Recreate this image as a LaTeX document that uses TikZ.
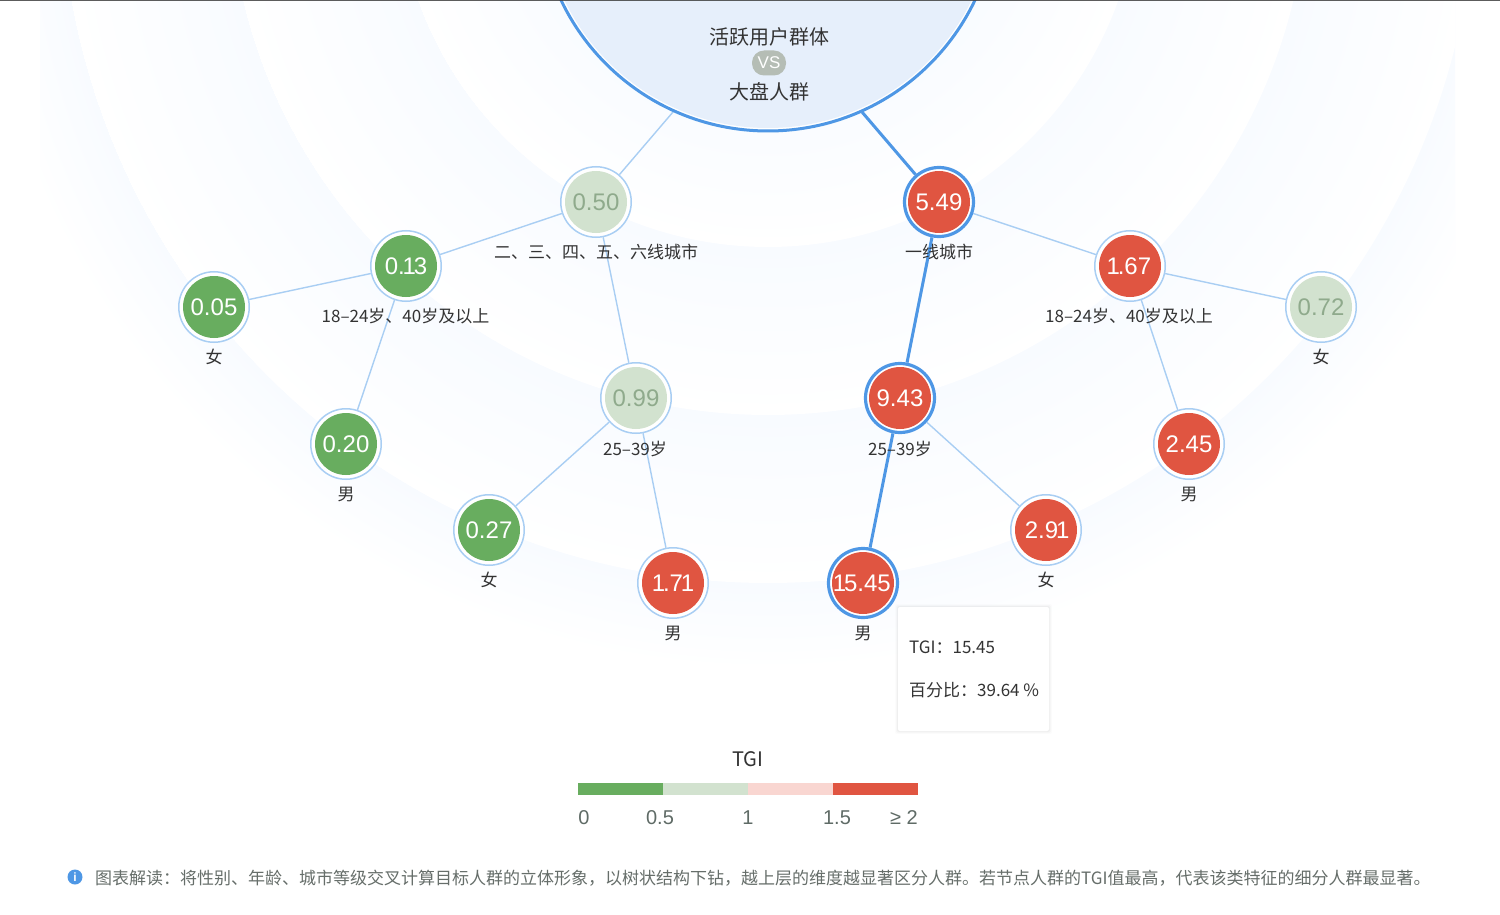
\documentclass[tikz,border=0pt]{standalone}
\usepackage{fontspec}
\setmainfont{Liberation Sans}
\newfontfamily\cjk{Noto Sans CJK SC}
\newcommand\narone{\kern-2.2pt 1\kern-2.2pt}
\definecolor{ringblue}{HTML}{F8FBFF}
\definecolor{nodered}{HTML}{E05541}
\definecolor{nodegreen}{HTML}{68AD5F}
\definecolor{nodepale}{HTML}{D2E2CF}
\definecolor{edgelight}{HTML}{A9CEF3}
\definecolor{edgestrong}{HTML}{4E97E5}
\definecolor{rootfill}{HTML}{E6EFFB}
\definecolor{inktext}{HTML}{333333}
\definecolor{paletext}{HTML}{8FAA8C}
\definecolor{pinkbar}{HTML}{F9D6D1}
\definecolor{vsfill}{HTML}{B5BDB5}
\definecolor{axistext}{HTML}{5F6B66}
\definecolor{notetext}{HTML}{666E6A}
\pgfdeclareradialshading{ringD}{\pgfpoint{0bp}{0bp}}{color(0bp)=(ringblue);color(22.26bp)=(ringblue);color(25bp)=(white)}
\pgfdeclareradialshading{ringC}{\pgfpoint{0bp}{0bp}}{color(0bp)=(ringblue);color(19.07bp)=(ringblue);color(25bp)=(white)}
\pgfdeclareradialshading{ringB}{\pgfpoint{0bp}{0bp}}{color(0bp)=(ringblue);color(17.2bp)=(ringblue);color(25bp)=(white)}
\pgfdeclareradialshading{ringA}{\pgfpoint{0bp}{0bp}}{color(0bp)=(ringblue);color(15.2bp)=(ringblue);color(25bp)=(white)}
\pgfdeclarelayer{back}
\pgfdeclarelayer{lines}
\pgfsetlayers{back,lines,main}
\tikzset{
 x=1pt,y=-1pt,
 valnode/.style={circle,inner sep=0pt,fill=white,font=\fontsize{24}{24}\selectfont,text=white},
 cool/.style={valnode,draw=edgelight,line width=1.5pt,minimum size=70.5pt},
 heat/.style={valnode,draw=edgestrong,line width=3.2pt,minimum size=69pt},
 disc/.style={path picture={\fill[#1] (path picture bounding box.center) circle[radius=31pt];}},
 redn/.style={disc=nodered},
 greenn/.style={disc=nodegreen},
 palen/.style={disc=nodepale,text=paletext},
 link/.style={edgelight,line width=1.4pt},
 hot/.style={edgestrong,line width=3pt},
 lab/.style={font=\cjk\fontsize{17}{17}\selectfont,text=inktext,inner sep=0pt},
 bigtext/.style={font=\cjk\fontsize{20}{20}\selectfont,text=inktext,inner sep=0pt},
 axislab/.style={font=\fontsize{20}{20}\selectfont,text=axistext,inner sep=0pt},
}
\begin{document}
\begin{tikzpicture}
\useasboundingbox (0,0) rectangle (1500,915);
\begin{pgfonlayer}{back}
\fill[white] (0,0) rectangle (1500,915);
\begin{scope}
\clip (40,0) rectangle (1455,915);
\shade[shading=ringD] (768,-125) circle[radius=795pt];
\shade[shading=ringC] (768,-125) circle[radius=708pt];
\shade[shading=ringB] (768,-125) circle[radius=540pt];
\shade[shading=ringA] (768,-125) circle[radius=372pt];
\end{scope}
\end{pgfonlayer}
% root
\node[circle,draw=edgestrong,fill=white,line width=3pt,minimum size=458pt,inner sep=0pt,
  path picture={\fill[rootfill] (path picture bounding box.center) circle[radius=226pt];}] (root) at (768,-98) {};
\coordinate (rootL) at (673,112);
\coordinate (rootR) at (862,112);
\fill[black!75,opacity=.85] (0,0) rectangle (1500,1.5);
% value nodes
\node[heat,redn] (n549) at (939,202) {5.49};
\node[cool,palen] (n050) at (596,202) {0.50};
\node[cool,greenn] (n013) at (406,266) {0.\narone3};
\node[cool,greenn] (n005) at (214,307) {0.05};
\node[cool,greenn] (n020) at (346,444) {0.20};
\node[cool,palen] (n099) at (636,398) {0.99};
\node[cool,greenn] (n027) at (489,530) {0.27};
\node[cool,redn] (n171) at (673,583) {\narone.7\narone};
\node[heat,redn] (n943) at (900,398) {9.43};
\node[heat,redn] (n1545) at (863,583) {\narone5.45};
\node[cool,redn] (n291) at (1046,530) {2.9\narone};
\node[cool,redn] (n167) at (1130,266) {\narone.67};
\node[cool,palen] (n072) at (1321,307) {0.72};
\node[cool,redn] (n245) at (1189,444) {2.45};
% connectors
\begin{pgfonlayer}{lines}
\draw[link] (rootL) -- (n050);
\draw[hot] (rootR) -- (n549);
\draw[link] (n050) -- (n013);
\draw[link] (n050) -- (n099);
\draw[link] (n013) -- (n005);
\draw[link] (n013) -- (n020);
\draw[link] (n099) -- (n027);
\draw[link] (n099) -- (n171);
\draw[link] (n549) -- (n167);
\draw[hot] (n549) -- (n943);
\draw[hot] (n943) -- (n1545);
\draw[link] (n943) -- (n291);
\draw[link] (n167) -- (n072);
\draw[link] (n167) -- (n245);
\end{pgfonlayer}
% root text
\node[bigtext] (t1) at (769,37) {活跃用户群体};
\node[rounded corners=12pt,fill=vsfill,minimum width=34pt,minimum height=25pt,inner sep=0pt,text=white,font=\fontsize{17}{17}\selectfont] (vs) at (769,63) {VS};
\node[bigtext] (t2) at (769,92) {大盘人群};
% labels
\node[lab] (l1) at (596,252) {二、三、四、五、六线城市};
\node[lab] (l2) at (939,252) {一线城市};
\node[lab] (l3) at (405.5,316.5) {18–24岁、40岁及以上};
\node[lab] (l4) at (1129,316.5) {18–24岁、40岁及以上};
\node[lab] (l5) at (214,357) {女};
\node[lab] (l6) at (1321,357) {女};
\node[lab] (l7) at (635,449) {25–39岁};
\node[lab] (l8) at (900,449) {25–39岁};
\node[lab] (l9) at (346,494) {男};
\node[lab] (l10) at (1189,494) {男};
\node[lab] (l11) at (489,580) {女};
\node[lab] (l12) at (1046,580) {女};
\node[lab] (l13) at (673,633) {男};
\node[lab] (l14) at (863,633) {男};
% tooltip
\foreach \w/\o in {3/.012,2/.02,1/.03}{\fill[black,opacity=\o,rounded corners=2pt] (898-\w,607-\w) rectangle (1049+\w,731+\w);}
\node[fill=white,rounded corners=2pt,minimum width=151pt,minimum height=124pt,inner sep=0pt] (tip) at (973.5,669) {};
\node[lab,anchor=west] (tip1) at (909,647) {TGI：15.45};
\node[lab,anchor=west] (tip2) at (909,690) {百分比：39.64 \%};
% legend
\node[bigtext] (ttl) at (748,759) {TGI};
\fill[nodegreen] (578,783) rectangle (663,795);
\fill[nodepale] (663,783) rectangle (748,795);
\fill[pinkbar] (748,783) rectangle (833,795);
\fill[nodered] (833,783) rectangle (918,795);
\node[axislab] (a0) at (584,818) {0};
\node[axislab] (a1) at (660,818) {0.5};
\node[axislab] (a2) at (748,818) {1};
\node[axislab] (a3) at (837,818) {1.5};
\node[axislab,anchor=east] (a4) at (918,818) {≥ 2};
% note
\fill[edgestrong] (75,877) circle[radius=7.5pt];
\node[text=white,inner sep=0pt,font=\bfseries\fontsize{12}{12}\selectfont] (i) at (75,877) {i};
\node[anchor=west,inner sep=0pt,text=notetext,font=\cjk\fontsize{17}{17}\selectfont] (note) at (95,878) {图表解读：将性别、年龄、城市等级交叉计算目标人群的立体形象，以树状结构下钻，越上层的维度越显著区分人群。若节点人群的TGI值最高，代表该类特征的细分人群最显著。};
\end{tikzpicture}
\end{document}
